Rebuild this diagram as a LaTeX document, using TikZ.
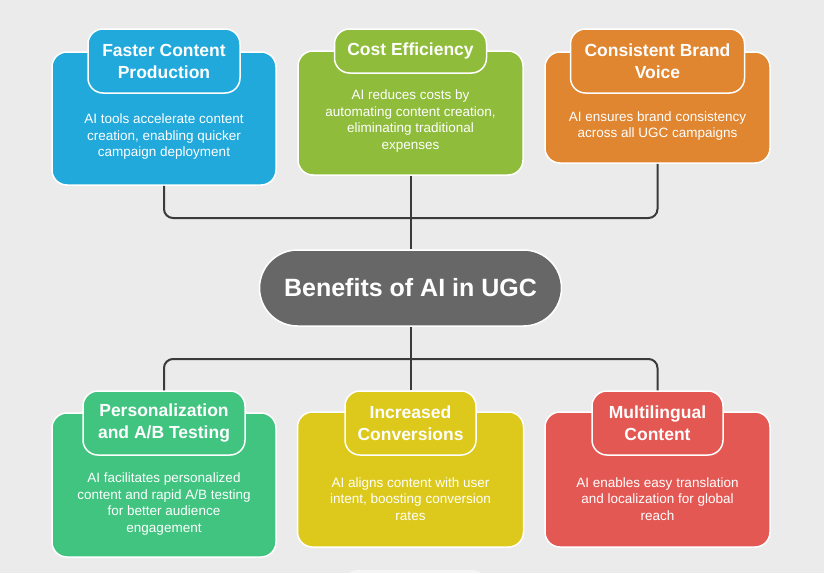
\documentclass[tikz,border=0pt]{standalone}
\usepackage{fontspec}
\setmainfont{Liberation Sans}
\definecolor{bgc}{HTML}{EBEBEB}
\definecolor{cblue}{HTML}{21A9DC}
\definecolor{cgreen}{HTML}{8FBC3A}
\definecolor{corange}{HTML}{E08530}
\definecolor{cmint}{HTML}{40C480}
\definecolor{cyellow}{HTML}{DCC91C}
\definecolor{cred}{HTML}{E45854}
\definecolor{chub}{HTML}{676767}
\definecolor{cline}{HTML}{3A3A3A}
\tikzset{
  bodybox/.style={draw=white, line width=1.5pt, rounded corners=15pt, inner sep=0pt},
  titlebox/.style={draw=white, line width=1.5pt, rounded corners=15pt, inner sep=0pt,
    text=white, font=\bfseries\fontsize{17.5}{22}\selectfont, align=center},
  bodytext/.style={text=white, font=\fontsize{13.5}{16.5}\selectfont, align=center, inner sep=0pt},
  hubbox/.style={draw=white, line width=1.5pt, rounded corners=38pt, fill=chub, inner sep=0pt,
    text=white, font=\bfseries\fontsize{25}{30}\selectfont},
  conn/.style={draw=cline, line width=2pt, rounded corners=9pt}
}
\begin{document}
\begin{tikzpicture}[x=1pt,y=-1pt]
\fill[bgc] (0,0) rectangle (824,573);
\useasboundingbox (0,0) rectangle (824,573);

% faint partial shape at bottom edge
\node[fill=white, fill opacity=0.5, rounded corners=12pt, minimum width=140pt, minimum height=30pt, inner sep=0pt] (ghost) at (415,585) {};

% coordinates for connector junctions
\coordinate (jt) at (410.5,218);
\coordinate (jb) at (410.5,359);

% hub
\node[hubbox, minimum width=302pt, minimum height=76pt] (hub) at (410.5,288) {Benefits of AI in UGC};

% top row bodies
\node[bodybox, fill=cblue, minimum width=224pt, minimum height=133pt] (b1) at (164,118.5) {};
\node[bodybox, fill=cgreen, minimum width=225pt, minimum height=124pt] (b2) at (410.5,113) {};
\node[bodybox, fill=corange, minimum width=225pt, minimum height=111pt] (b3) at (657.5,107.5) {};
% bottom row bodies
\node[bodybox, fill=cmint, minimum width=224pt, minimum height=144pt] (b4) at (164,485) {};
\node[bodybox, fill=cyellow, minimum width=226pt, minimum height=135pt] (b5) at (410.5,479.5) {};
\node[bodybox, fill=cred, minimum width=225pt, minimum height=135pt] (b6) at (657.5,479.5) {};

% connectors
\draw[conn] (b1.south) |- (jt);
\draw[conn] (b3.south) |- (jt);
\draw[conn] (b2.south) -- (hub.north);

% titles
\node[titlebox, fill=cblue, minimum width=152pt, minimum height=64pt] (t1) at (164,61) {Faster Content\\Production};
\node[titlebox, fill=cgreen, minimum width=152pt, minimum height=44pt] (t2) at (410.5,51) {Cost Efficiency};
\node[titlebox, fill=corange, minimum width=174pt, minimum height=64pt] (t3) at (657.5,61) {Consistent Brand\\Voice};

\draw[conn] (hub.south) -- (jb);
\node[titlebox, fill=cmint, minimum width=162pt, minimum height=64pt] (t4) at (164,423) {Personalization\\and A/B Testing};
\node[titlebox, fill=cyellow, minimum width=131pt, minimum height=64pt] (t5) at (410.5,423) {Increased\\Conversions};
\node[titlebox, fill=cred, minimum width=131pt, minimum height=64pt] (t6) at (657.5,423) {Multilingual\\Content};
\draw[conn] (jb) -| (t4.north);
\draw[conn] (jb) -| (t6.north);
\draw[conn] (jb) -- (t5.north);

% body texts
\node[bodytext] (d1) at (164,137) {AI tools accelerate content\\creation, enabling quicker\\campaign deployment};
\node[bodytext] (d2) at (410.5,121) {AI reduces costs by\\automating content creation,\\eliminating traditional\\expenses};
\node[bodytext] (d3) at (657.5,126) {AI ensures brand consistency\\across all UGC campaigns};
\node[bodytext] (d4) at (164,504) {AI facilitates personalized\\content and rapid A/B testing\\for better audience\\engagement};
\node[bodytext] (d5) at (410.5,499) {AI aligns content with user\\intent, boosting conversion\\rates};
\node[bodytext] (d6) at (657.5,499) {AI enables easy translation\\and localization for global\\reach};
\end{tikzpicture}
\end{document}
